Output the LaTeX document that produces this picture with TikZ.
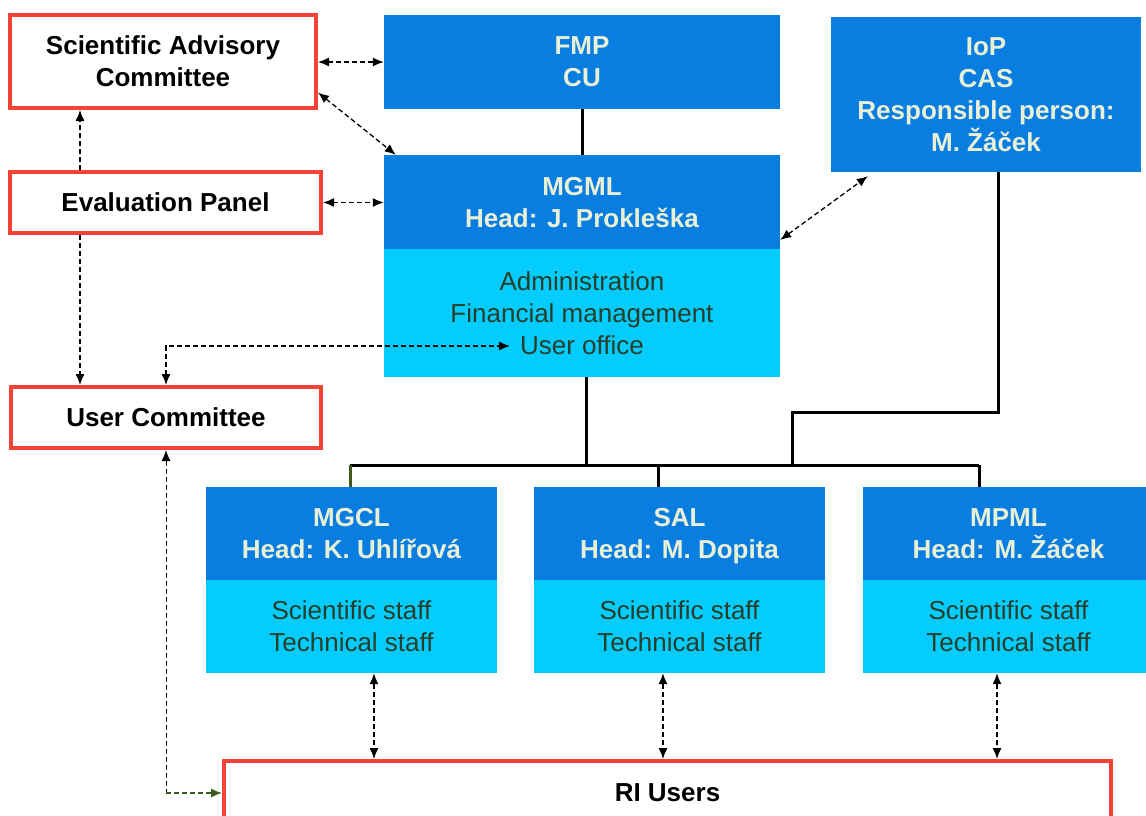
\documentclass[tikz,border=0pt]{standalone}
\usepackage{fontspec}
\setmainfont{Liberation Sans}
\usetikzlibrary{calc,arrows.meta}
\definecolor{darkblue}{RGB}{10,125,224}
\definecolor{lightblue}{RGB}{5,204,255}
\definecolor{boxred}{RGB}{244,67,54}
\definecolor{creamtext}{RGB}{232,240,214}
\definecolor{stafftext}{RGB}{40,62,40}
\definecolor{linkgreen}{RGB}{60,90,30}
\newcommand\boxfont{\fontsize{26}{32}\selectfont}
\tikzset{%
    >={Latex[length=11pt,width=9pt]}, % option for nice arrows
    redbox/.style={draw=boxred, line width=4pt, fill=white, inner sep=0pt,
        align=center, text depth=0pt, font=\boxfont\bfseries},%
    headbox/.style={fill=darkblue, text=creamtext, inner sep=0pt,
        align=center, text depth=0pt, font=\boxfont\bfseries},%
    staffbox/.style={fill=lightblue, text=stafftext, inner sep=0pt,
        align=center, text depth=0pt, font=\boxfont},%
    tree/.style={line width=3pt, black},%
    link/.style={<->, dash pattern=on 5pt off 3pt, line width=1.3pt, black}%
}
\begin{document}
\begin{tikzpicture}[x=1pt,y=-1pt] % organisation chart

    \useasboundingbox (0,0) rectangle (1146,816);
    \clip (0,0) rectangle (1146,816);

    % advisory bodies
    \node[redbox, minimum width=306pt, minimum height=93pt] (SAC) at (163,61.5) {Scientific Advisory\\Committee};
    \node[redbox, minimum width=311pt, minimum height=61pt] (EP) at (165.5,202.5) {Evaluation Panel};
    \node[redbox, minimum width=310pt, minimum height=61pt] (UC) at (166,417.5) {User Committee};
    \node[redbox, minimum width=887pt, minimum height=64pt] (RI) at (667.5,793) {RI Users};

    % host institutions
    \node[headbox, minimum width=396pt, minimum height=94pt] (FMP) at (582,62) {FMP\\CU};
    \node[headbox, minimum width=310pt, minimum height=155pt] (IoP) at (986,94.5) {IoP\\CAS\\Responsible person:\\M. Žáček};

    % MGML
    \node[headbox, minimum width=396pt, minimum height=94pt] (MGML) at (582,202) {MGML\\Head: J. Prokleška};
    \node[staffbox, minimum width=396pt, minimum height=128pt] (MGMLb) at (582,313) {Administration\\Financial management\\User office};

    % laboratories
    \foreach \name/\cx/\head in {MGCL/351.5/K. Uhlířová, SAL/679.5/M. Dopita, MPML/1008.5/M. Žáček} {
        \node[headbox, minimum width=291pt, minimum height=93pt] (\name) at (\cx,533.5) {\name\\Head: \head};
        \node[staffbox, minimum width=291pt, minimum height=93pt] (\name b) at (\cx,626.5) {Scientific staff\\Technical staff};
    }

    % solid hierarchy
    \coordinate (bus) at (586,465);
    \coordinate (b1) at (350,465);
    \coordinate (b2) at (658,465);
    \coordinate (b3) at (979,465);
    \coordinate (bend) at (792,412);
    \draw[tree] (FMP) -- (MGML);
    \draw[tree] (MGMLb.south -| bus) -- (bus);
    \draw[tree] (b1) -- (b3);
    \draw[tree, linkgreen] (b1) -- (b1 |- MGCL.north);
    \draw[tree] (b2) -- (b2 |- SAL.north);
    \draw[tree] (b3) -- (b3 |- MPML.north);
    \draw[tree] ([xshift=12pt]IoP.south) |- (bend) -- (bend |- bus);

    % dashed links
    \coordinate (vl) at (80,0);
    \coordinate (uo) at (510,346);
    \draw[link] (SAC.east |- FMP) -- (FMP.west);
    \draw[link] ([yshift=-31pt]SAC.east) -- ([xshift=12pt]MGML.north west);
    \draw[link] (EP.east) -- (EP.east -| MGML.west);
    \draw[link,->] (EP.north -| vl) -- (SAC.south -| vl);
    \draw[link,->] (EP.south -| vl) -- (UC.north -| vl);
    \draw[link] (UC.north) |- (uo);
    \draw[link] ([yshift=-38pt]MGML.east) -- ([xshift=37pt,yshift=-4pt]IoP.south west);
    \foreach \name/\dx in {MGCL/22.5, SAL/-16.5, MPML/-11.5}
        \draw[link] ([xshift=\dx pt]\name b.south) -- ([xshift=\dx pt]\name b.south |- RI.north);
    \draw[link,<-,line width=0.9pt] (UC.south) -- (UC.south |- RI.west) coordinate (corner);
    \draw[link,->,linkgreen] (corner) -- (RI.west);

\end{tikzpicture}
\end{document}
